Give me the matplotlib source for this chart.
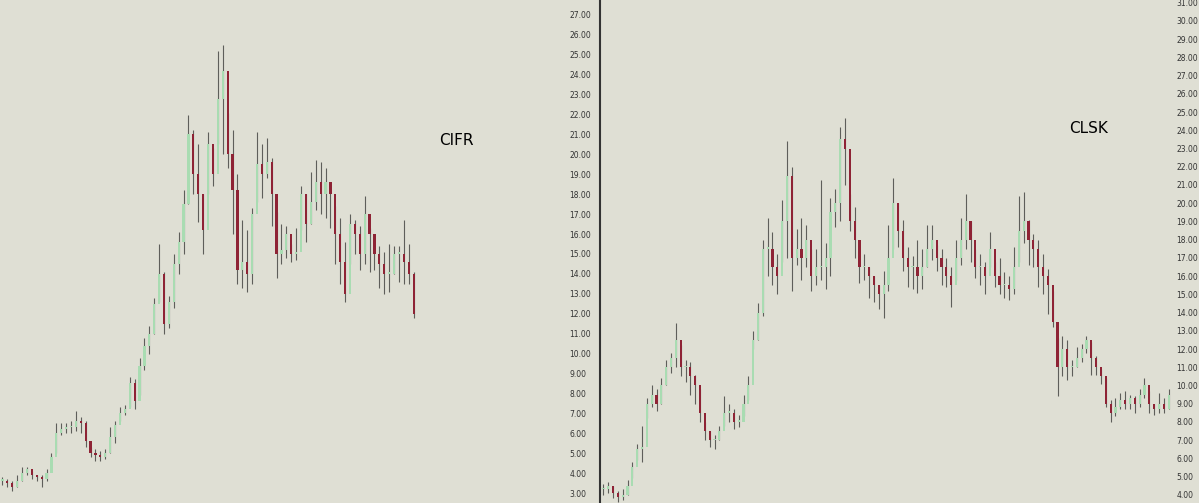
import matplotlib.pyplot as plt
import numpy as np

BG = "#dfdfd4"

cifr_close = [3.6, 3.5, 3.3, 3.6, 4.0, 4.2, 3.9, 3.8, 3.7, 4.0,
              4.8, 6.0, 6.2, 6.3, 6.3, 6.6, 6.5, 5.6, 5.0, 4.9,
              4.8, 5.0, 5.8, 6.4, 7.0, 7.2, 8.5, 7.6, 9.4, 10.4,
              11.0, 12.5, 14.0, 11.5, 12.6, 14.5, 15.6, 17.5, 21.0, 19.0,
              18.0, 16.2, 20.5, 19.0, 22.8, 24.2, 20.0, 18.2, 14.2, 14.6,
              14.0, 17.0, 19.5, 19.0, 19.6, 18.0, 15.0, 15.2, 16.0, 15.0,
              15.1, 18.0, 16.5, 17.6, 18.6, 18.0, 18.6, 18.0, 16.0, 14.6,
              13.0, 16.5, 16.0, 15.0, 17.0, 16.0, 15.0, 14.5, 14.0, 14.0,
              15.0, 15.0, 14.6, 14.0, 12.0]
cifr_high = [3.8, 3.7, 3.6, 3.9, 4.3, 4.3, 4.1, 3.9, 3.9, 4.2,
             5.0, 6.5, 6.5, 6.5, 6.6, 7.1, 6.8, 6.6, 5.3, 5.2,
             5.1, 5.2, 6.3, 6.6, 7.3, 7.4, 8.8, 8.7, 9.8, 10.8,
             11.4, 12.8, 15.5, 14.1, 12.9, 15.0, 16.1, 18.2, 22.0, 21.2,
             20.5, 18.0, 21.1, 20.3, 25.2, 25.5, 22.1, 21.2, 19.0, 16.7,
             16.2, 17.3, 21.1, 20.5, 20.8, 19.8, 17.1, 16.5, 16.4, 15.5,
             16.3, 18.4, 18.0, 19.1, 19.7, 19.6, 19.3, 18.5, 17.4, 16.8,
             15.6, 17.0, 16.7, 16.4, 17.9, 16.3, 16.0, 15.4, 15.1, 15.5,
             15.4, 15.4, 16.7, 15.5, 14.1]
cifr_low = [3.4, 3.3, 3.1, 3.3, 3.6, 3.9, 3.7, 3.6, 3.3, 3.6,
            4.1, 5.0, 5.9, 6.0, 6.0, 6.1, 6.0, 5.3, 4.8, 4.6,
            4.6, 4.7, 5.0, 5.5, 6.6, 6.9, 7.3, 7.2, 7.9, 9.2,
            10.0, 11.0, 12.6, 11.0, 11.3, 12.3, 14.0, 15.0, 17.5, 18.0,
            16.6, 15.0, 18.0, 18.4, 20.5, 20.0, 19.3, 16.0, 13.5, 13.3,
            13.1, 13.5, 17.6, 17.8, 18.8, 16.4, 13.8, 14.5, 14.8, 14.6,
            14.7, 16.2, 15.6, 16.5, 17.2, 17.0, 16.8, 16.3, 14.5, 13.5,
            12.6, 14.5, 15.0, 14.2, 14.5, 14.1, 14.2, 13.3, 13.0, 13.1,
            14.0, 13.6, 13.5, 13.5, 11.8]

clsk_close = [4.3, 4.5, 4.1, 3.9, 4.0, 4.5, 5.5, 6.5, 6.6, 9.0,
              9.5, 9.0, 10.0, 11.0, 11.5, 12.5, 11.0, 11.0, 10.5, 10.0,
              8.5, 7.5, 7.0, 7.0, 7.5, 8.5, 8.5, 8.0, 8.0, 9.0,
              10.0, 12.5, 14.0, 17.5, 17.5, 16.5, 16.0, 19.0, 21.5, 17.0,
              17.5, 17.0, 18.0, 16.0, 16.5, 16.5, 17.0, 19.5, 20.0, 23.5,
              23.0, 19.0, 18.0, 16.5, 16.5, 16.0, 15.5, 15.0, 15.5, 17.0,
              20.0, 18.5, 17.0, 16.5, 16.5, 16.0, 16.5, 17.5, 18.0, 17.0,
              16.5, 16.0, 15.5, 17.0, 18.0, 19.0, 18.0, 16.5, 16.5, 16.0,
              17.5, 16.0, 15.5, 15.5, 15.3, 16.5, 18.5, 19.0, 18.0, 17.5,
              16.5, 16.0, 15.5, 13.5, 11.0, 12.0, 11.0, 11.0, 11.5, 12.0,
              12.5, 11.5, 11.0, 10.5, 9.0, 8.5, 8.8, 9.2, 9.0, 9.3,
              9.0, 9.5, 10.0, 9.0, 8.7, 9.0, 8.7, 9.5]
clsk_high = [4.6, 4.7, 4.5, 4.2, 4.3, 4.8, 5.8, 6.8, 7.8, 9.3,
             10.0, 9.8, 10.4, 11.4, 11.8, 13.4, 12.2, 11.4, 11.3, 10.6,
             9.8, 8.0, 7.5, 7.3, 7.8, 9.4, 9.0, 8.7, 8.4, 9.5,
             10.5, 13.0, 14.5, 18.0, 19.2, 18.4, 17.2, 20.2, 23.4, 22.0,
             18.6, 19.2, 18.8, 17.5, 17.5, 21.3, 17.8, 20.3, 20.8, 24.2,
             24.7, 20.5, 19.8, 17.5, 17.2, 16.5, 16.0, 15.5, 16.3, 18.8,
             21.4, 20.0, 19.1, 17.6, 17.1, 18.0, 17.5, 18.8, 18.8, 17.7,
             17.5, 17.0, 16.5, 18.0, 19.2, 20.5, 19.0, 17.5, 17.2, 16.8,
             18.4, 16.8, 17.0, 16.2, 16.0, 17.6, 20.4, 20.6, 19.1, 18.3,
             18.0, 17.2, 16.4, 15.2, 12.6, 12.7, 12.5, 11.4, 12.1, 12.3,
             12.7, 12.4, 11.6, 10.9, 10.4, 9.2, 9.3, 9.6, 9.7, 9.5,
             9.4, 9.8, 10.4, 9.7, 9.0, 9.6, 9.3, 9.8]
clsk_low = [4.0, 4.1, 3.8, 3.6, 3.7, 4.0, 4.9, 5.9, 5.8, 8.2,
            8.8, 8.6, 9.0, 10.0, 10.7, 11.0, 10.5, 10.2, 9.5, 9.0,
            8.0, 7.0, 6.6, 6.5, 7.0, 7.8, 8.0, 7.6, 7.7, 8.3,
            9.2, 12.0, 12.5, 13.8, 16.0, 15.5, 15.0, 16.8, 17.0, 15.2,
            16.6, 15.8, 16.5, 15.2, 15.5, 15.8, 15.3, 16.0, 18.7, 19.0,
            21.0, 18.5, 17.0, 15.6, 15.8, 14.8, 14.6, 14.2, 13.7, 15.2,
            17.5, 17.6, 16.3, 15.4, 15.3, 15.1, 15.3, 16.5, 16.9, 16.3,
            15.5, 15.4, 14.3, 15.8, 16.6, 17.5, 16.8, 15.9, 15.5, 15.0,
            16.5, 15.4, 15.0, 14.8, 14.7, 15.0, 16.8, 17.8, 16.6, 16.5,
            15.4, 15.0, 13.9, 13.2, 9.4, 10.5, 10.3, 10.5, 11.0, 11.3,
            11.8, 10.6, 10.6, 10.1, 8.8, 8.0, 8.3, 8.7, 8.7, 8.7,
            8.5, 8.8, 9.3, 8.5, 8.4, 8.5, 8.5, 8.7]


def candles(ax, close, high, low):
    close = np.array(close)
    openp = np.r_[close[0], close[:-1]]
    x = np.arange(len(close))
    up = close >= openp
    ax.vlines(x, low, high, color="#5e5e5a", lw=0.8, zorder=1)
    body_lo = np.minimum(openp, close)
    body_h = np.maximum(np.abs(close - openp), 0.08)
    colors = np.where(up, "#a9dcb2", "#8e2335")
    ax.bar(x, body_h, bottom=body_lo, width=0.45, color=colors,
           edgecolor="none", zorder=2)


fig = plt.figure(figsize=(11.99, 5.03), dpi=100)
fig.patch.set_facecolor(BG)

ax1 = fig.add_axes([0, 0, 565 / 1199, 1])
ax2 = fig.add_axes([601 / 1199, 0, 571 / 1199, 1])

candles(ax1, cifr_close, cifr_high, cifr_low)
candles(ax2, clsk_close, clsk_high, clsk_low)

n1 = len(cifr_close)
ax1.set_xlim(-0.5, (n1 - 1) * 565 / 413)
ax1.set_ylim(2.5, 27.75)
ax1.set_yticks(np.arange(3, 28, 1))

n2 = len(clsk_close)
ax2.set_xlim(-0.5, n2 - 0.3)
ax2.set_ylim(3.55, 31.15)
ax2.set_yticks(np.arange(4, 32, 1))

for ax in (ax1, ax2):
    ax.set_facecolor(BG)
    ax.yaxis.tick_right()
    ax.set_xticks([])
    ax.set_yticklabels([f"{v:.2f}" for v in ax.get_yticks()])
    ax.tick_params(axis="y", length=0, labelsize=5.5, colors="#333333", pad=3)
    for s in ax.spines.values():
        s.set_visible(False)

ax1.text(0.777, 0.72, "CIFR", transform=ax1.transAxes, fontsize=11, ha="left", va="center")
ax2.text(0.82, 0.745, "CLSK", transform=ax2.transAxes, fontsize=11, ha="left", va="center")

fig.add_artist(plt.Line2D([599.5 / 1199] * 2, [0, 1], color="#333333", lw=1.5))

fig.savefig("out.png", dpi=100, facecolor=BG)
